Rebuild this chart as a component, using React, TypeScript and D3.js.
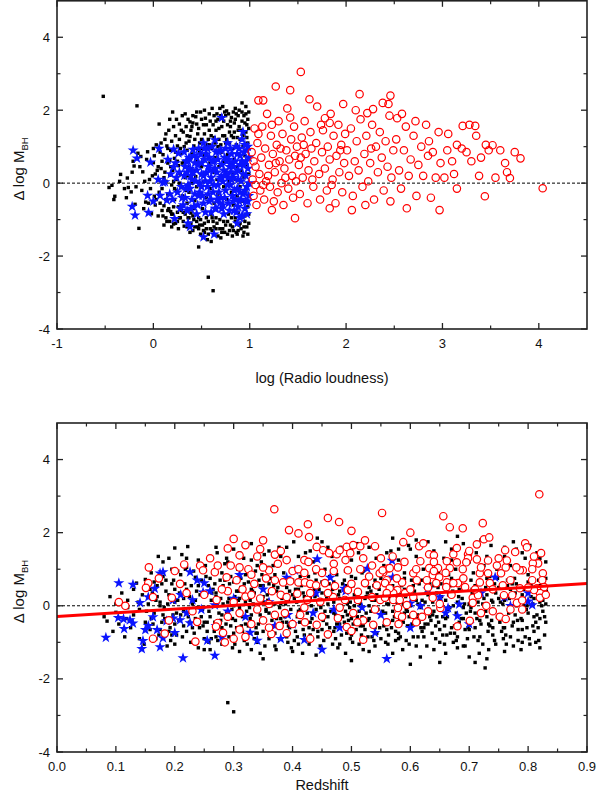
import React from 'react';
import * as d3 from 'd3';

// ---------- DATA ----------
// Top panel: x = log(Radio loudness), y = Δ log M_BH
const blackTop: number[] = [
-0.52,2.38,-0.17,2.12,-0.46,-0.12,-0.43,-0.06,-0.41,-0.45,-0.4,-0.36,-0.34,0.24,-0.27,0.14,-0.26,-0.12,-0.23,-0.24,-0.21,0.6,-0.2,0.47,-0.19,-0.58,-0.16,0.82,-0.13,0.73,-0.15,-1.24,-0.11,0.31,-0.08,-0.52,-0.06,0.86,-0.04,0.1,-0.02,-0.84,0.0,0.56,0.01,-0.36,0.03,1.05,0.06,1.62,0.05,-0.9,-0.09,0.05,-0.3,-0.15,-0.12,-0.2,0.02,0.25,
0.08,0.4,0.09,-0.15,0.1,0.78,0.11,-0.62,0.12,1.2,0.13,0.05,0.14,-1.05,0.15,0.55,0.15,-0.3,0.16,1.45,0.17,0.22,0.18,-0.78,0.18,0.9,0.19,-0.05,0.2,1.95,0.2,0.35,0.21,-1.12,0.22,0.68,0.22,-0.45,0.23,1.3,0.24,0.1,0.24,-0.2,0.25,1.02,0.26,-0.65,0.26,0.48,0.27,1.62,0.28,-0.95,0.28,0.25,0.29,0.82,0.3,-0.35,0.3,1.85,0.12,0.3,0.17,0.62,0.07,-0.55,0.14,1.02,0.19,-1.2,0.21,0.05,0.25,-1.05,0.27,0.0,0.29,-0.12,
0.31,1.4,0.32,0.6,0.32,-1.18,0.33,0.15,0.34,1.1,0.35,-0.55,0.35,0.9,0.36,1.75,0.37,-0.25,0.37,0.42,0.38,1.28,0.39,-0.82,0.39,0.7,0.4,0.0,0.4,1.55,0.41,-1.3,0.42,0.35,0.42,1.02,0.43,-0.48,0.44,1.82,0.44,0.18,0.45,-0.1,0.46,1.35,0.46,0.6,0.47,-1.75,0.47,-0.95,0.48,0.85,0.49,1.95,0.49,-0.3,0.5,0.45,0.5,1.2,0.51,-0.7,0.52,0.05,0.52,1.6,0.53,-1.1,0.53,0.75,0.54,1.78,0.55,-0.4,0.55,0.28,0.56,1.05,0.57,-2.58,0.57,-1.4,0.58,0.55,0.58,1.45,0.59,-0.15,0.6,0.95,0.6,-0.85,0.61,2.05,0.62,-2.95,0.62,0.3,0.63,1.25,0.63,-0.55,0.64,0.7,0.65,-1.25,0.65,1.7,0.66,0.1,0.67,1.0,0.67,-0.3,0.68,1.5,0.68,0.45,0.69,-1.0,0.7,1.85,0.7,0.2,0.71,-0.65,0.71,0.85,0.72,1.3,0.73,-0.1,0.73,0.6,0.74,1.95,0.74,-1.35,0.75,0.35,0.75,1.1,0.76,-0.45,0.77,0.78,0.77,1.6,0.78,-0.85,0.78,0.05,0.79,1.4,0.8,0.5,0.8,-1.15,0.81,1.8,0.81,-0.25,0.82,0.95,0.82,0.25,0.83,1.25,0.83,-0.6,0.84,1.65,0.84,0.65,0.85,-1.05,0.85,0.1,0.86,1.9,0.86,1.05,0.87,-0.35,0.87,0.45,0.88,1.45,0.88,-0.8,0.89,0.8,0.89,2.0,0.9,-0.1,0.9,1.2,0.91,0.35,0.91,-1.25,0.92,1.7,0.92,0.6,0.93,-0.5,0.93,1.0,0.94,0.15,0.94,1.85,0.95,-0.9,0.95,0.75,0.96,1.4,0.96,-0.2,0.97,0.5,0.97,1.6,0.98,-0.65,0.98,1.1,0.99,0.25,0.99,1.95,0.99,-1.1,0.98,-1.4,0.96,2.1,0.92,2.2,0.85,2.05,0.8,1.55,0.76,1.98,0.72,2.1,0.66,1.9,0.58,1.9,0.53,2.0,0.45,1.62,0.41,1.85,0.38,1.68,0.34,1.55,0.6,-1.6,0.7,-1.5,0.82,-1.45,0.88,-1.3,0.94,-1.2,0.55,-1.25,0.48,-1.15,0.62,-1.05,0.42,-1.0,0.36,-0.95,
-0.35,0.05,-0.28,-0.4,-0.22,0.3,-0.18,-0.1,-0.14,0.45,-0.1,-0.7,-0.07,0.65,-0.03,-0.15,0.0,0.95,0.02,-0.6,0.04,0.35,0.06,-0.25,0.08,1.1,0.09,0.6,0.1,-0.9,0.11,0.15,0.13,1.35,0.13,-0.45,0.15,0.95,0.16,-0.7,0.17,1.75,0.18,0.45,0.19,1.15,0.2,-0.85,0.21,1.55,0.22,-0.15,0.23,0.85,0.24,1.75,0.25,0.6,0.26,-1.25,0.27,1.2,0.28,0.95,0.29,1.45,0.3,0.55,0.31,-0.8,0.32,1.0,0.33,1.9,0.34,-0.2,0.35,1.3,0.36,0.2,0.37,1.15,0.38,-1.35,0.39,1.45,0.4,0.8,0.41,1.65,0.42,-0.7,0.43,1.2,0.44,0.95,0.45,1.95,0.46,-1.2,0.47,1.5,0.48,1.1,0.49,-1.0,0.5,1.75,0.51,0.95,0.52,-1.3,0.53,1.35,0.54,1.0,0.55,1.6,0.56,-1.55,0.57,1.2,0.58,1.05,0.59,1.7,0.6,1.3,0.61,-1.3,0.62,1.6,0.63,1.85,0.64,1.1,0.65,1.45,0.66,-1.1,0.67,1.75,0.68,1.2,0.69,2.05,0.7,1.05,0.71,1.55,0.72,-1.25,0.73,1.7,0.74,1.3,0.75,1.85,0.76,1.2,0.77,-1.05,0.78,1.9,0.79,1.1,0.8,1.7,0.81,1.3,0.82,-1.2,0.83,1.95,0.84,1.4,0.85,1.75,0.86,-1.35,0.87,1.25,0.88,1.85,0.89,1.55,0.9,-1.1,0.91,1.45,0.92,1.95,0.93,1.3,0.94,-1.35,0.95,1.65,0.96,1.9,0.97,1.25,0.98,1.75,0.99,1.5,0.99,-0.85,0.97,-1.2,0.95,-1.05,0.93,-1.45,0.91,-0.95,0.89,-1.15,0.87,-1.4,0.85,-0.95,0.83,-1.3,0.81,-0.95,0.79,-1.3,0.77,-1.4,0.75,-1.15,0.73,-1.05,0.71,-1.35,0.69,-1.25,0.67,-1.45,0.65,-0.95,0.63,-1.2,0.61,-0.95,0.59,-1.25,0.57,-1.05,0.55,-0.95,0.53,-1.35,0.51,-1.15,0.49,-1.4,0.47,-1.25,0.45,-1.05,0.43,-1.2,0.41,-0.9,0.39,-1.1,0.37,-0.95,0.35,-1.2,0.33,-0.85,0.31,-1.05,0.29,-0.75,0.27,-0.95,0.25,-0.8,0.23,-1.1,0.21,-0.65,0.19,-0.85,0.17,-1.05,0.15,-0.75,0.13,-0.95,0.11,-1.15,0.09,-0.75,0.07,0.85,0.05,0.45,0.03,-0.45,0.01,0.75,-0.01,0.2,-0.05,-0.55
];

const blueTop: number[] = [
-0.21,0.9,-0.17,0.68,-0.03,0.57,0.06,0.95,-0.22,-0.64,-0.19,-0.88,-0.05,-0.81,-0.06,-0.34,0.07,-0.34,0.1,0.02,0.21,0.93,0.26,0.82,0.21,0.44,0.12,0.03,0.14,-0.47,0.28,-0.69,0.22,-0.98,0.36,-1.1,0.38,-1.2,0.52,-1.48,0.63,-1.4,0.71,1.79,0.93,1.41,0.9,-0.95,0.87,-1.1,0.64,1.18,0.52,1.1,0.41,0.92,0.17,-0.3,0.24,0.15,0.2,-0.45,
0.32,0.2,0.33,-0.4,0.34,0.6,0.36,-0.05,0.38,0.4,0.39,-0.7,0.4,0.1,0.42,0.75,0.43,-0.3,0.45,0.35,0.46,-0.6,0.47,0.95,0.48,0.0,0.5,0.55,0.51,-0.35,0.52,0.2,0.54,-0.8,0.55,0.8,0.56,-0.1,0.57,0.45,0.58,-0.5,0.6,0.15,0.61,1.0,0.62,-0.25,0.63,0.6,0.65,-0.7,0.66,0.3,0.67,-0.05,0.68,0.85,0.7,-0.4,0.71,0.5,0.72,0.05,0.73,-0.85,0.74,0.7,0.75,-0.2,0.76,0.25,0.77,1.1,0.78,-0.55,0.79,0.45,0.8,-0.05,0.81,0.8,0.82,-0.35,0.83,0.15,0.84,-0.75,0.85,0.6,0.86,1.0,0.87,-0.15,0.88,0.35,0.89,-0.5,0.9,0.75,0.91,0.05,0.92,1.2,0.93,-0.3,0.94,0.5,0.95,-0.7,0.96,0.2,0.97,0.9,0.97,-0.1,0.98,0.4,0.98,-0.5,0.95,1.05,0.9,-0.25,0.85,-0.45,0.8,0.3,0.75,0.95,0.7,0.15,0.65,0.85,0.6,-0.45,0.55,0.3,0.5,-0.1,0.45,0.7,0.4,-0.45,0.35,0.3,0.62,0.35,0.72,-0.6,0.82,0.55,0.92,-0.9,0.58,0.7,0.68,-0.25,0.78,0.65,0.88,0.1,0.45,-0.85,0.32,0.85,0.29,-0.1,0.27,0.3,
0.31,-0.6,0.33,0.45,0.35,-0.75,0.37,0.7,0.38,-0.15,0.41,0.3,0.42,-0.65,0.44,0.05,0.46,0.5,0.47,-0.35,0.49,0.8,0.5,0.25,0.52,-0.55,0.53,0.65,0.54,0.05,0.56,0.95,0.57,-0.3,0.59,0.35,0.6,-0.8,0.61,0.6,0.63,-0.05,0.64,0.4,0.66,-0.45,0.67,0.65,0.69,0.1,0.7,0.9,0.71,-0.7,0.73,0.35,0.74,-0.4,0.76,0.6,0.77,-0.05,0.79,-0.75,0.8,0.95,0.81,0.1,0.83,0.45,0.84,-0.2,0.86,0.3,0.87,0.8,0.88,-0.65,0.9,0.5,0.91,-0.45,0.93,0.25,0.94,0.85,0.95,-0.2,0.96,0.6,0.97,-0.85,0.98,1.0,0.99,0.0,0.99,0.7,0.99,-0.35,0.96,-0.5,0.92,0.6,0.89,0.95,0.86,-0.8,0.83,-0.5,0.78,0.15,0.74,0.2,0.69,-0.55,0.64,-0.7,0.59,0.05,0.53,0.95,0.48,-0.25,0.43,0.55,0.39,0.2,0.36,0.6,0.34,-0.15,0.3,-0.4,0.25,-0.25,0.23,0.55,0.18,0.25,0.15,0.65,0.05,0.1,0.0,-0.5
];

const redTop: number[] = [
1.53,3.05,1.27,2.65,1.09,2.27,1.14,2.27,1.42,2.55,2.14,2.44,2.46,2.4,2.44,2.17,1.97,2.17,2.28,2.03,2.22,1.92,1.78,1.78,1.83,1.65,2.53,1.78,3.21,1.57,3.34,1.57,3.06,1.35,3.52,1.04,3.48,0.9,3.81,0.68,3.67,0.3,3.7,0.14,4.04,-0.14,3.44,-0.36,2.97,-0.74,2.63,-0.69,2.06,-0.74,1.83,-0.69,1.47,-0.96,1.23,-0.74,
1.02,0.85,1.03,0.1,1.04,-0.35,1.05,1.5,1.06,0.45,1.07,-0.6,1.08,1.1,1.1,0.25,1.11,-0.2,1.12,0.7,1.13,1.55,1.15,-0.45,1.16,0.95,1.17,0.05,1.18,1.9,1.2,0.5,1.21,-0.1,1.22,1.3,1.24,0.8,1.25,-0.5,1.26,0.3,1.28,1.05,1.29,-0.25,1.3,1.7,1.31,0.6,1.33,0.0,1.34,1.35,1.35,-0.6,1.36,0.4,1.38,0.9,1.39,2.05,1.4,-0.15,1.41,0.65,1.43,1.2,1.44,0.2,1.45,-0.4,1.46,1.55,1.47,0.75,1.48,0.05,1.49,1.0,1.04,0.6,1.09,1.35,1.14,-0.05,1.19,0.2,1.23,1.6,1.32,0.95,1.37,0.15,1.42,1.8,1.06,-0.05,1.27,0.55,
1.51,0.5,1.52,-0.3,1.54,1.25,1.55,0.15,1.57,1.7,1.58,0.8,1.6,-0.55,1.61,0.35,1.63,1.4,1.64,0.95,1.66,-0.1,1.67,0.6,1.69,1.1,1.7,2.1,1.72,0.25,1.73,-0.45,1.75,0.85,1.76,1.45,1.78,0.4,1.8,-0.2,1.81,1.0,1.83,0.65,1.84,1.9,1.86,0.1,1.87,1.3,1.89,-0.55,1.9,0.75,1.92,1.6,1.93,0.3,1.95,1.05,1.96,-0.25,1.98,0.55,1.99,1.35,1.56,1.05,1.65,0.1,1.74,1.6,1.85,-0.05,1.94,0.9,1.62,2.3,1.53,0.7,
2.01,0.9,2.03,0.2,2.05,1.5,2.07,-0.35,2.09,0.6,2.11,1.15,2.13,0.35,2.15,1.75,2.17,-0.1,2.19,0.8,2.21,1.3,2.23,0.05,2.25,0.55,2.27,1.6,2.29,-0.45,2.31,1.0,2.33,0.3,2.35,1.4,2.37,0.7,2.39,-0.2,2.41,1.15,2.43,0.45,2.45,1.85,2.47,0.15,2.49,0.9,2.1,2.0,2.26,0.95,2.38,2.2,2.2,-0.6,2.46,-0.5,
2.52,1.2,2.55,0.35,2.57,-0.15,2.6,0.9,2.62,1.55,2.65,0.2,2.67,0.65,2.7,1.3,2.73,-0.35,2.75,0.5,2.78,1.0,2.8,0.2,2.83,1.6,2.85,0.75,2.88,-0.4,2.9,0.85,2.93,0.15,2.96,1.4,2.98,0.55,2.58,1.9,2.72,1.7,2.86,1.15,
3.02,0.15,3.05,0.9,3.1,0.6,3.15,1.05,3.2,0.95,3.25,0.85,3.3,0.6,3.35,1.3,3.38,0.2,3.45,1.05,3.55,0.15,3.6,0.9,3.65,0.55,3.75,0.85,3.12,0.25,3.28,1.6,3.4,0.7,3.15,-0.15
];

// Bottom panel: x = Redshift, y = Δ log M_BH
const blackBottom: number[] = [
0.08,-0.3,0.085,-0.42,0.09,0.25,0.095,-0.7,0.1,0.05,0.1,-0.18,0.105,-0.5,0.11,0.35,0.115,-0.85,0.12,-0.05,0.12,0.15,0.125,-0.6,0.13,0.45,0.13,-0.25,0.135,0.62,0.14,-0.9,0.14,-0.1,0.145,0.3,0.15,-0.45,0.15,0.72,0.148,-1.05,0.138,0.1,0.118,-0.35,
0.155,0.05,0.158,-0.65,0.16,0.9,0.162,0.35,0.165,-0.2,0.168,-0.9,0.17,0.55,0.172,1.35,0.175,0.1,0.178,-0.45,0.18,1.2,0.182,-0.05,0.185,0.7,0.187,-1.1,0.19,0.3,0.192,-0.6,0.195,1.0,0.197,-0.25,0.2,0.45,0.2,1.58,0.203,-0.8,0.205,0.15,0.207,-0.4,0.21,0.85,0.212,1.4,0.215,-0.15,0.217,0.6,0.22,-0.7,0.222,1.62,0.225,0.25,0.227,-1.0,0.23,0.05,0.232,0.95,0.235,-0.35,0.237,0.4,0.24,1.25,0.242,-0.6,0.245,0.7,0.247,-0.1,0.25,0.3,0.25,-0.9,0.165,0.65,0.175,-0.65,0.185,0.4,0.195,-0.8,0.205,0.95,0.215,0.2,0.225,-0.45,0.235,0.78,0.245,-0.3,0.18,-0.25,0.2,-0.5,0.22,0.45,0.24,-1.15,0.19,1.3,
0.252,1.1,0.255,-0.45,0.257,0.55,0.26,-1.2,0.262,0.15,0.265,0.9,0.267,-0.7,0.27,0.35,0.272,1.45,0.275,-0.2,0.277,0.7,0.28,-1.05,0.282,0.05,0.285,1.15,0.287,-0.5,0.29,0.45,0.29,-2.65,0.3,-2.9,0.292,-0.85,0.295,0.8,0.297,-0.1,0.3,1.55,0.302,0.25,0.305,-0.6,0.307,1.0,0.31,-1.25,0.312,0.5,0.315,-0.3,0.317,1.3,0.32,0.1,0.322,-0.8,0.325,0.65,0.327,-0.05,0.33,1.7,0.332,-0.45,0.335,0.35,0.337,0.95,0.34,-1.0,0.342,0.2,0.345,-0.25,0.347,1.2,0.35,0.55,0.35,-0.7,0.258,-0.15,0.268,0.6,0.278,-0.4,0.288,1.3,0.298,-0.35,0.308,0.4,0.318,-0.95,0.328,0.15,0.338,-0.6,0.348,0.85,0.262,-0.9,0.272,0.0,0.282,0.55,0.292,0.2,0.302,-1.05,0.312,0.75,0.322,-0.15,0.332,0.4,0.342,-0.5,0.27,1.6,0.31,1.45,0.345,-1.3,0.28,-0.25,0.3,0.0,0.325,-0.55,
0.352,1.4,0.355,-0.15,0.357,0.3,0.36,-0.9,0.362,0.75,0.365,-0.4,0.367,1.1,0.37,0.05,0.372,-1.2,0.375,0.5,0.377,1.6,0.38,-0.6,0.382,0.2,0.385,0.9,0.387,-0.3,0.39,1.3,0.392,-1.0,0.395,0.4,0.397,-0.1,0.4,0.7,0.402,1.75,0.405,-0.7,0.407,0.1,0.41,1.05,0.412,-0.45,0.415,0.55,0.417,-1.3,0.42,0.25,0.422,1.45,0.425,-0.2,0.427,0.8,0.43,-0.8,0.432,0.0,0.435,1.2,0.437,0.45,0.44,-0.55,0.442,1.85,0.445,0.15,0.447,-1.1,0.45,0.65,0.358,-0.55,0.368,0.55,0.378,-0.05,0.388,-0.75,0.398,0.95,0.408,-0.3,0.418,0.35,0.428,-0.6,0.438,0.9,0.448,-0.25,0.363,0.0,0.373,-0.35,0.383,0.65,0.393,0.15,0.403,-0.95,0.413,0.8,0.423,-0.4,0.433,0.6,0.443,-0.85,0.36,1.05,0.38,1.35,0.4,-1.25,0.42,-0.1,0.44,0.3,0.35,0.1,0.39,-0.45,0.41,0.45,0.43,1.5,
0.452,-0.4,0.455,1.0,0.457,0.3,0.46,-0.85,0.462,0.6,0.465,-0.15,0.467,1.35,0.47,0.1,0.472,-0.6,0.475,0.85,0.477,-1.15,0.48,0.4,0.482,1.6,0.485,-0.3,0.487,0.2,0.49,0.95,0.492,-0.75,0.495,0.5,0.497,-0.05,0.5,1.25,0.502,-1.0,0.505,0.3,0.507,0.75,0.51,-0.45,0.512,1.45,0.515,0.05,0.517,-0.8,0.52,0.6,0.522,1.8,0.525,-0.2,0.527,0.35,0.53,-1.25,0.532,1.05,0.535,0.15,0.537,-0.55,0.54,0.7,0.542,1.3,0.545,-0.1,0.547,0.45,0.55,-0.9,0.458,-0.5,0.468,0.45,0.478,-0.35,0.488,0.7,0.498,0.1,0.508,-0.65,0.518,0.9,0.528,-0.4,0.538,0.55,0.548,0.25,0.463,0.8,0.473,-0.9,0.483,0.0,0.493,-0.25,0.503,0.55,0.513,-0.15,0.523,-0.65,0.533,0.4,0.543,-0.75,0.46,1.6,0.49,-1.3,0.51,1.7,0.54,-1.1,0.47,-0.2,0.5,-0.35,0.53,0.0,
0.552,0.2,0.555,1.1,0.557,-0.4,0.56,0.65,0.562,-1.05,0.565,0.35,0.567,1.5,0.57,-0.15,0.572,0.8,0.575,-0.7,0.577,0.1,0.58,1.25,0.582,-0.35,0.585,0.55,0.587,-1.2,0.59,0.9,0.592,0.25,0.595,-0.55,0.597,1.65,0.6,0.0,0.602,0.7,0.605,-0.85,0.607,0.4,0.61,1.35,0.612,-0.25,0.615,0.6,0.617,-1.4,0.62,0.15,0.622,1.0,0.625,-0.5,0.627,0.35,0.63,1.75,0.632,-0.1,0.635,0.8,0.637,-0.75,0.64,0.25,0.642,1.2,0.645,-0.3,0.647,0.5,0.65,-1.0,0.558,-0.2,0.568,0.45,0.578,-0.55,0.588,0.05,0.598,-0.3,0.608,0.95,0.618,-0.6,0.628,0.5,0.638,-0.25,0.648,0.9,0.563,-0.8,0.573,0.3,0.583,-0.05,0.593,-0.95,0.603,0.3,0.613,0.05,0.623,-0.85,0.633,0.6,0.643,-0.55,0.56,1.45,0.6,1.55,0.64,-1.2,0.58,-0.9,0.62,-0.35,0.59,0.45,
0.652,0.6,0.655,-0.3,0.657,1.3,0.66,0.15,0.662,-0.8,0.665,0.85,0.667,-0.05,0.67,1.55,0.672,0.4,0.675,-0.55,0.677,1.0,0.68,-1.15,0.682,0.25,0.685,0.7,0.687,-0.35,0.69,1.7,0.692,0.05,0.695,0.5,0.697,-0.9,0.7,1.2,0.702,-0.15,0.705,0.35,0.707,0.9,0.71,-0.6,0.712,1.45,0.715,0.1,0.717,-1.3,0.72,0.65,0.722,-0.25,0.725,1.1,0.727,-1.7,0.73,0.3,0.732,-0.7,0.735,0.8,0.737,1.65,0.74,-0.1,0.742,0.45,0.745,-1.05,0.747,1.0,0.75,0.2,0.658,-0.55,0.668,0.55,0.678,-0.2,0.688,0.95,0.698,-0.45,0.708,0.2,0.718,-0.85,0.728,0.5,0.738,-0.4,0.748,0.75,0.663,-0.1,0.673,-1.0,0.683,0.45,0.693,-0.65,0.703,0.7,0.713,-0.35,0.723,0.05,0.733,-1.2,0.743,0.6,0.66,1.75,0.7,-1.4,0.72,1.8,0.74,-0.8,0.69,-0.05,0.71,-1.55,
0.752,-0.45,0.755,0.9,0.757,0.05,0.76,1.35,0.762,-0.8,0.765,0.55,0.767,-0.2,0.77,1.1,0.772,0.3,0.775,-1.1,0.777,0.75,0.78,1.55,0.782,-0.4,0.785,0.15,0.787,0.95,0.79,-0.65,0.792,0.45,0.795,1.3,0.797,-0.1,0.8,0.65,0.802,-0.9,0.805,0.25,0.807,1.05,0.81,-0.3,0.812,0.5,0.815,1.45,0.817,-0.6,0.82,0.1,0.822,0.85,0.825,-0.15,0.827,0.4,0.83,1.2,0.83,-0.45,0.758,-0.9,0.768,0.2,0.778,-0.25,0.788,-1.2,0.798,0.0,0.808,-0.55,0.818,0.7,0.828,-0.8,0.763,-0.35,0.773,0.6,0.783,-0.65,0.793,0.2,0.803,1.65,0.813,-1.0,0.823,0.35,0.775,1.75,
0.16,-0.35,0.17,0.25,0.18,0.8,0.19,-0.7,0.2,0.1,0.21,-0.25,0.22,1.05,0.23,-0.6,0.24,0.55,0.25,-0.45,0.26,0.75,0.26,-0.3,0.27,-0.85,0.27,0.25,0.28,0.9,0.28,-0.6,0.29,0.1,0.29,-0.35,0.3,0.65,0.3,-0.75,0.31,0.2,0.31,-0.05,0.32,0.85,0.32,-0.5,0.33,-0.25,0.33,0.45,0.34,-0.75,0.34,1.1,0.35,0.25,0.35,-0.4,0.36,0.6,0.36,-0.2,0.37,-0.75,0.37,0.85,0.38,0.05,0.38,-0.35,0.39,0.5,0.39,-0.85,0.4,0.3,0.4,-0.55,0.41,-0.15,0.41,0.95,0.42,-0.8,0.42,0.6,0.43,0.2,0.43,-0.45,0.44,-0.1,0.44,0.7,0.45,-0.65,0.45,0.35,0.46,0.05,0.46,-0.3,0.47,0.65,0.47,-0.7,0.48,0.2,0.48,-0.5,0.49,0.55,0.49,-0.15,0.5,0.8,0.5,-0.8,0.51,0.25,0.51,-0.3,0.52,0.95,0.52,-0.55,0.53,0.5,0.53,-0.35,0.54,0.15,0.54,-0.6,0.55,0.75,0.55,-0.25,0.56,0.05,0.56,-0.65,0.57,0.55,0.57,-0.4,0.58,0.3,0.58,-0.75,0.59,0.75,0.59,-0.2,0.6,0.45,0.6,-0.55,0.61,0.15,0.61,-0.35,0.62,0.7,0.62,-0.7,0.63,0.3,0.63,-0.5,0.64,0.55,0.64,-0.15,0.65,0.15,0.65,-0.65,0.66,0.4,0.66,-0.35,0.67,0.75,0.67,-0.6,0.68,0.1,0.68,-0.85,0.69,0.45,0.69,-0.35,0.7,0.05,0.7,-0.65,0.71,0.55,0.71,-0.2,0.72,0.3,0.72,-0.5,0.73,0.75,0.73,-0.3,0.74,0.1,0.74,-0.6,0.75,0.5,0.75,-0.25,0.76,0.15,0.76,-0.6,0.77,0.45,0.77,-0.85,0.78,0.0,0.78,0.6,0.79,-0.4,0.79,0.3,0.8,-0.2,0.8,0.85,0.81,-0.7,0.81,0.2,0.82,-0.35,0.82,0.55,0.83,0.05,0.83,0.75,
0.175,0.0,0.195,0.6,0.215,-0.55,0.235,0.15,0.255,-0.7,0.265,0.45,0.275,-0.45,0.285,0.7,0.295,-0.55,0.305,0.4,0.315,-0.7,0.325,0.25,0.335,-0.9,0.345,0.55,0.355,-0.1,0.365,0.35,0.375,-0.55,0.385,0.3,0.395,-0.6,0.405,0.45,0.415,-0.2,0.425,0.6,0.435,-0.65,0.445,0.45,0.455,-0.15,0.465,0.35,0.475,-0.5,0.485,0.6,0.495,-0.4,0.505,0.0,0.515,-0.55,0.525,0.25,0.535,-0.85,0.545,0.6,0.555,-0.55,0.565,0.2,0.575,-0.95,0.585,0.3,0.595,-0.15,0.605,0.55,0.615,-0.45,0.625,0.1,0.635,-0.4,0.645,0.35,0.655,-0.8,0.665,0.3,0.675,-0.75,0.685,0.6,0.695,-0.2,0.705,0.45,0.715,-0.95,0.725,0.2,0.735,-0.55,0.745,0.35,0.755,-0.7,0.765,0.7,0.775,-0.45,0.785,0.45,0.795,-0.85,0.805,0.55,0.815,-0.25,0.825,0.15,
0.22,1.3,0.26,1.35,0.29,1.2,0.33,1.25,0.36,1.5,0.39,1.6,0.41,1.35,0.44,1.25,0.47,1.1,0.5,1.55,0.53,1.6,0.55,1.35,0.58,1.55,0.61,1.8,0.64,1.5,0.67,1.25,0.7,1.5,0.73,1.35,0.76,1.6,0.79,1.45,0.82,1.3,0.45,1.75,0.57,1.85,0.68,1.9,
0.2,-1.05,0.25,-1.2,0.33,-1.2,0.37,-1.1,0.41,-1.05,0.44,-1.35,0.48,-1.05,0.52,-1.2,0.57,-1.3,0.61,-1.1,0.66,-1.3,0.69,-1.1,0.73,-1.45,0.76,-1.25,0.79,-1.0,0.82,-1.15,0.6,-1.6,0.35,-1.45,0.5,-1.5,0.65,-1.55,
0.152,-0.15,0.158,0.45,0.163,-0.5,0.168,0.15,0.173,-0.8,0.178,0.6,0.183,-0.35,0.188,0.05,0.193,-0.95,0.198,0.7,0.203,-0.2,0.208,0.35,0.213,-0.85,0.218,1.0,0.223,-0.3,0.228,0.55,0.233,-0.75,0.238,-0.05,0.243,0.3,0.248,-0.55,0.253,0.8,0.258,-1.0,0.263,0.35,0.268,-0.45,0.273,-0.95,0.278,0.2,0.283,-0.75,0.288,-0.2,0.293,0.6,0.298,-1.15,0.303,-0.4,0.308,0.15,0.313,-0.55,0.318,0.6,0.323,-1.05,0.328,-0.35,0.333,0.05,0.338,-0.75,0.343,0.7,0.348,-0.45,0.353,-1.1,0.358,0.15,0.363,-0.8,0.368,-0.2,0.373,0.4,0.378,-0.9,0.383,-0.45,0.388,0.05,0.393,-0.55,0.398,-1.15,0.403,0.2,0.408,-0.85,0.413,-0.1,0.418,-0.65,0.423,0.1,0.428,-1.05,0.433,-0.35,0.438,0.25,0.443,-0.7,0.448,-0.05,0.453,-0.95,0.458,0.2,0.463,-0.6,0.468,-1.05,0.473,-0.25,0.478,0.3,0.483,-0.8,0.488,-0.45,0.493,0.05,0.498,-0.9,0.503,-0.5,0.508,0.15,0.513,-1.05,0.518,-0.3,0.523,0.2,0.528,-0.85,0.533,-0.15,0.538,-0.95,0.543,0.3,0.548,-0.6,0.553,-0.15,0.558,-1.0,0.563,0.05,0.568,-0.6,0.573,-0.3,0.578,0.25,0.583,-0.85,0.588,-0.45,0.593,-0.1,0.598,-1.05,0.603,-0.5,0.608,0.2,0.613,-0.85,0.618,-0.05,0.623,-0.6,0.628,-1.1,0.633,-0.3,0.638,0.1,0.643,-0.9,0.648,-0.45,0.653,0.25,0.658,-1.05,0.663,-0.3,0.668,-0.75,0.673,0.0,0.678,-0.95,0.683,-0.45,0.688,0.2,0.693,-1.1,0.698,-0.6,0.703,-0.05,0.708,-0.85,0.713,0.3,0.718,-0.4,0.723,-1.05,0.728,-0.15,0.733,-0.5,0.738,0.15,0.743,-0.95,0.748,-0.3,0.753,0.1,0.758,-0.6,0.763,-1.05,0.768,-0.1,0.773,-0.55,0.778,0.35,0.783,-0.95,0.788,-0.35,0.793,0.0,0.798,-0.6,0.803,-1.05,0.808,0.05,0.813,-0.45,0.818,-0.95,0.823,0.0,0.828,-0.3,0.831,0.4
];

const blueBottom: number[] = [
0.083,-0.87,0.105,0.62,0.129,0.58,0.104,-0.33,0.113,-0.36,0.114,-0.63,0.124,-0.39,0.129,-0.48,0.141,0.08,0.146,-0.96,0.144,-1.18,0.15,-0.66,0.155,-0.55,0.155,0.24,0.163,-0.31,0.166,0.47,0.175,0.89,0.18,0.92,0.186,-0.42,0.18,-0.88,0.197,0.16,0.17,-0.66,0.175,-1.13,0.209,-0.39,0.226,0.92,0.238,0.7,0.248,0.37,0.214,-1.43,0.25,0.62,0.255,-0.95,0.268,-1.36,0.226,-0.47,0.197,-0.34,0.2,-0.74,0.23,0.16,0.268,0.02,0.28,-0.86,0.328,-0.73,0.42,-0.93,0.45,-1.2,0.56,-1.45,0.54,-0.74,0.49,0.4,0.6,0.07,0.68,-0.28,0.76,0.24,0.77,0.0,0.8,0.35,0.8,0.12,0.569,1.24,0.57,0.78,0.617,0.0,0.65,0.24,0.664,-0.06,0.66,-0.2,0.683,0.04,0.744,0.78,0.807,0.02,0.442,1.28,0.404,0.97,0.464,0.77,0.488,0.47,0.39,0.77,0.47,-0.1,0.518,-0.05,0.435,-0.2,0.392,-0.25,0.55,-0.25,0.527,1.02,0.3,0.2,0.32,-0.3,0.35,0.45,0.37,-0.55,0.31,0.85,0.29,-0.15,0.34,-0.95,0.36,0.1,0.38,-0.9,0.4,-0.5,0.44,0.35,0.48,-0.6,0.51,0.2,0.6,-0.6,0.63,0.45,0.7,-0.5,0.72,0.35,0.26,0.4,0.27,-0.55,0.21,0.3,0.22,-0.2,0.245,-0.1
];

const redBottom: number[] = [
0.156,1.05,0.155,0.62,0.151,0.49,0.173,0.75,0.163,0.24,0.105,0.1,0.116,0.0,0.195,0.22,0.163,-0.9,0.183,-0.76,0.19,-0.4,0.216,1.13,0.209,0.6,0.238,-0.44,0.235,-0.98,0.243,1.1,0.248,0.97,0.268,0.92,0.273,1.1,0.288,0.78,0.271,0.16,0.273,-0.47,0.27,-0.57,0.282,-0.74,0.285,-1.0,
0.3,1.83,0.35,1.79,0.32,1.66,0.29,1.57,0.31,1.38,0.34,1.35,0.36,0.97,0.295,1.1,0.305,0.7,0.315,0.45,0.325,1.0,0.335,0.6,0.345,0.2,0.355,0.75,0.365,0.4,0.375,1.15,0.3,0.1,0.31,-0.2,0.32,0.25,0.33,-0.5,0.34,-0.1,0.35,-0.4,0.36,0.05,0.37,-0.25,0.38,0.3,0.364,-0.77,0.31,-0.65,0.33,0.85,0.345,1.55,0.37,1.4,0.369,2.64,0.3,-0.9,0.378,-0.55,0.29,0.4,
0.46,2.4,0.479,2.29,0.552,2.54,0.394,2.07,0.41,1.98,0.428,1.88,0.441,1.61,0.452,1.52,0.462,1.44,0.475,1.41,0.48,1.52,0.492,1.61,0.503,1.66,0.515,1.63,0.523,1.79,0.54,1.63,0.498,1.44,0.39,1.25,0.42,1.25,0.427,1.2,0.494,0.97,0.515,1.0,0.535,1.1,0.554,0.92,0.562,1.02,0.384,0.64,0.396,0.67,0.41,0.64,0.421,0.64,0.43,0.6,0.44,0.56,0.455,0.62,0.472,0.54,0.494,0.43,0.511,0.38,0.523,0.62,0.543,0.56,0.56,0.7,0.578,0.43,0.39,0.24,0.408,0.33,0.425,0.16,0.447,0.11,0.469,0.24,0.489,0.16,0.511,0.16,0.535,0.24,0.549,0.16,0.571,0.16,0.387,-0.2,0.413,-0.25,0.4,-0.5,0.421,-0.45,0.441,-0.52,0.477,-0.34,0.492,-0.58,0.503,-0.2,0.52,-0.4,0.537,-0.52,0.56,-0.45,0.579,-0.25,0.426,2.23,0.43,-0.9,0.46,-0.78,0.5,-0.69,0.52,-0.93,0.45,0.9,0.47,0.95,0.4,0.95,0.44,1.0,
0.819,3.05,0.656,2.45,0.667,2.15,0.689,2.12,0.723,2.26,0.588,1.74,0.615,1.63,0.622,1.71,0.632,1.41,0.64,1.38,0.673,1.41,0.679,1.58,0.698,1.41,0.713,1.68,0.725,1.82,0.734,1.87,0.761,1.52,0.778,1.47,0.795,1.71,0.798,1.6,0.822,1.44,0.817,1.16,0.808,1.16,0.825,0.89,0.824,0.7,0.827,0.51,0.807,1.0,0.791,0.97,0.762,1.05,0.764,1.24,0.747,1.1,0.732,1.24,0.713,1.27,0.698,1.3,0.695,1.19,0.679,1.19,0.662,1.22,0.647,1.03,0.632,1.03,0.617,1.22,0.638,0.84,0.667,1.03,0.689,1.0,0.718,0.89,0.732,0.89,0.754,0.89,0.786,0.97,0.807,0.7,0.815,0.48,0.82,0.35,0.82,0.22,0.81,0.43,0.786,0.48,0.773,0.29,0.781,0.08,0.759,0.29,0.757,0.56,0.735,0.62,0.718,0.64,0.706,0.22,0.715,0.29,0.693,0.51,0.681,0.62,0.662,0.64,0.649,0.78,0.644,0.62,0.628,0.7,0.611,0.7,0.605,0.89,0.586,0.64,0.577,0.75,0.571,0.35,0.591,0.35,0.605,0.24,0.638,0.22,0.661,0.51,0.673,0.62,0.706,0.08,0.729,0.0,0.701,-0.41,0.752,-0.3,0.762,-0.36,0.548,0.89,0.553,0.97,0.565,1.03,0.579,1.05,0.557,0.62,0.565,0.48,0.557,0.22,0.582,0.16,0.594,0.02,0.579,-0.06,0.586,-0.3,0.605,-0.25,0.651,-0.06,0.61,-0.45,0.68,-0.56,0.63,-0.15,0.74,-0.15,0.79,-0.1,
0.2,0.95,0.22,0.35,0.23,-0.15,0.25,0.3,0.26,1.3,0.28,0.45,0.29,-0.3,0.31,1.05,0.32,-0.85,0.33,0.3,0.35,1.05,0.36,-0.6,0.37,0.7,0.38,1.5,0.39,-0.75,0.41,1.0,0.42,-0.05,0.43,0.35,0.45,-0.3,0.46,0.35,0.47,1.15,0.48,-0.05,0.49,1.25,0.5,0.6,0.51,-0.45,0.52,1.3,0.53,0.8,0.54,-0.1,0.55,1.3,0.56,0.35,0.57,1.35,0.58,-0.5,0.59,1.2,0.6,0.45,0.61,1.0,0.62,-0.3,0.63,0.5,0.64,1.2,0.65,0.05,0.66,0.9,0.67,0.3,0.69,0.75,0.7,1.5,0.71,0.45,0.72,-0.2,0.74,0.45,0.75,1.3,0.77,0.7,0.78,1.05,0.8,0.5,0.81,1.35,0.79,0.15,0.83,0.3,0.77,-0.1,0.72,1.05,0.64,0.95,0.6,2.0,0.5,2.05,0.42,0.9
];

// Linear fit in bottom panel (end points)
const fitX: number[] = [0, 0.9];
const fitY: number[] = [-0.29, 0.61];

// Axes
const yDomain: [number, number] = [-4, 5];
const yMajor: number[] = [-4, -2, 0, 2, 4];
const yMinor: number[] = [-3, -1, 1, 3];
const topXDomain: [number, number] = [-1, 4.5];
const topXMajor: number[] = [-1, 0, 1, 2, 3, 4];
const topXMinor: number[] = [-0.5, 0.5, 1.5, 2.5, 3.5];
const botXDomain: [number, number] = [0, 0.9];
const botXMajor: number[] = [0, 0.1, 0.2, 0.3, 0.4, 0.5, 0.6, 0.7, 0.8, 0.9];
const botXMinor: number[] = [0.05, 0.15, 0.25, 0.35, 0.45, 0.55, 0.65, 0.75, 0.85];

// ---------- DRAWING ----------
const FONT = '"Liberation Sans", Arial, Helvetica, sans-serif';
const L = 57, R = 587;

function pairs(a: number[]): [number, number][] {
  const r: [number, number][] = [];
  for (let i = 0; i + 1 < a.length; i += 2) r.push([a[i], a[i + 1]]);
  return r;
}

const starPath = d3.symbol().type(d3.symbolStar).size(38)() as string;

interface PanelProps {
  top: number; bottom: number;
  xDomain: [number, number]; xMajor: number[]; xMinor: number[];
  xFmt: (v: number) => string; xTitle: string; xTitleY: number; xLabelY: number;
  black: number[]; blue: number[]; red: number[]; redFill: string;
  fit?: boolean;
}

function Panel(p: PanelProps) {
  const x = d3.scaleLinear().domain(p.xDomain).range([L, R]);
  const y = d3.scaleLinear().domain(yDomain).range([p.bottom, p.top]);
  const MAJ = 6, MIN = 3.5;
  const stroke = '#222';
  const line = d3.line<[number, number]>().x(d => x(d[0])).y(d => y(d[1]));
  const fitPts: [number, number][] = fitX.map((v, i) => [v, fitY[i]]);
  const cy = (p.top + p.bottom) / 2;
  return (
    <g>
      <clipPath id={`clip${Math.round(p.top)}`}>
        <rect x={L} y={p.top} width={R - L} height={p.bottom - p.top} />
      </clipPath>
      <g clipPath={`url(#clip${Math.round(p.top)})`}>
        <line x1={L} x2={R} y1={y(0)} y2={y(0)} stroke="#000" strokeWidth={1} strokeDasharray="3,2" />
        {pairs(p.black).map((d, i) => (
          <rect key={'k' + i} x={x(d[0]) - 1.7} y={y(d[1]) - 1.7} width={3.4} height={3.4} fill="#000" />
        ))}
        {pairs(p.blue).map((d, i) => (
          <path key={'b' + i} d={starPath} transform={`translate(${x(d[0])},${y(d[1])})`} fill="#0a14ff" />
        ))}
        {pairs(p.red).map((d, i) => (
          <circle key={'r' + i} cx={x(d[0])} cy={y(d[1])} r={3.7} fill={p.redFill} stroke="#ff0000" strokeWidth={1.2} />
        ))}
        {p.fit && <path d={line(fitPts) as string} stroke="#ff0000" strokeWidth={3} fill="none" />}
      </g>
      <rect x={L} y={p.top} width={R - L} height={p.bottom - p.top} fill="none" stroke={stroke} strokeWidth={1.6} />
      {p.xMajor.map(v => (
        <g key={'xm' + v}>
          <line x1={x(v)} x2={x(v)} y1={p.bottom} y2={p.bottom - MAJ} stroke={stroke} strokeWidth={1.3} />
          <line x1={x(v)} x2={x(v)} y1={p.top} y2={p.top + MAJ} stroke={stroke} strokeWidth={1.3} />
          <text x={x(v)} y={p.xLabelY} textAnchor="middle" fontFamily={FONT} fontSize={13} fill="#111">{p.xFmt(v)}</text>
        </g>
      ))}
      {p.xMinor.map(v => (
        <g key={'xn' + v}>
          <line x1={x(v)} x2={x(v)} y1={p.bottom} y2={p.bottom - MIN} stroke={stroke} strokeWidth={1.2} />
          <line x1={x(v)} x2={x(v)} y1={p.top} y2={p.top + MIN} stroke={stroke} strokeWidth={1.2} />
        </g>
      ))}
      {yMajor.map(v => (
        <g key={'ym' + v}>
          <line x1={L} x2={L + MAJ} y1={y(v)} y2={y(v)} stroke={stroke} strokeWidth={1.3} />
          <line x1={R} x2={R - MAJ} y1={y(v)} y2={y(v)} stroke={stroke} strokeWidth={1.3} />
          <text x={50} y={y(v) + 4.5} textAnchor="end" fontFamily={FONT} fontSize={13} fill="#111">{String(v)}</text>
        </g>
      ))}
      {yMinor.map(v => (
        <g key={'yn' + v}>
          <line x1={L} x2={L + MIN} y1={y(v)} y2={y(v)} stroke={stroke} strokeWidth={1.2} />
          <line x1={R} x2={R - MIN} y1={y(v)} y2={y(v)} stroke={stroke} strokeWidth={1.2} />
        </g>
      ))}
      <text x={(L + R) / 2} y={p.xTitleY} textAnchor="middle" fontFamily={FONT} fontSize={14.5} fill="#111">{p.xTitle}</text>
      <text transform={`translate(24,${cy + 4}) rotate(-90)`} textAnchor="middle" fontFamily={FONT} fontSize={15} fill="#111">
        {'\u0394 log M'}<tspan fontSize={9.5} dy={4}>BH</tspan>
      </text>
    </g>
  );
}

export default function App() {
  return (
    <svg width={596} height={797} style={{ position: 'absolute', left: 0, top: 0, background: '#fff' }}>
      <rect x={0} y={0} width={596} height={797} fill="#fff" />
      <Panel top={0.8} bottom={329} xDomain={topXDomain} xMajor={topXMajor} xMinor={topXMinor}
        xFmt={v => String(v)} xTitle="log (Radio loudness)" xTitleY={383} xLabelY={348}
        black={blackTop} blue={blueTop} red={redTop} redFill="none" />
      <Panel top={423} bottom={752} xDomain={botXDomain} xMajor={botXMajor} xMinor={botXMinor}
        xFmt={v => v.toFixed(1)} xTitle="Redshift" xTitleY={790} xLabelY={771}
        black={blackBottom} blue={blueBottom} red={redBottom} redFill="#fff" fit />
    </svg>
  );
}
